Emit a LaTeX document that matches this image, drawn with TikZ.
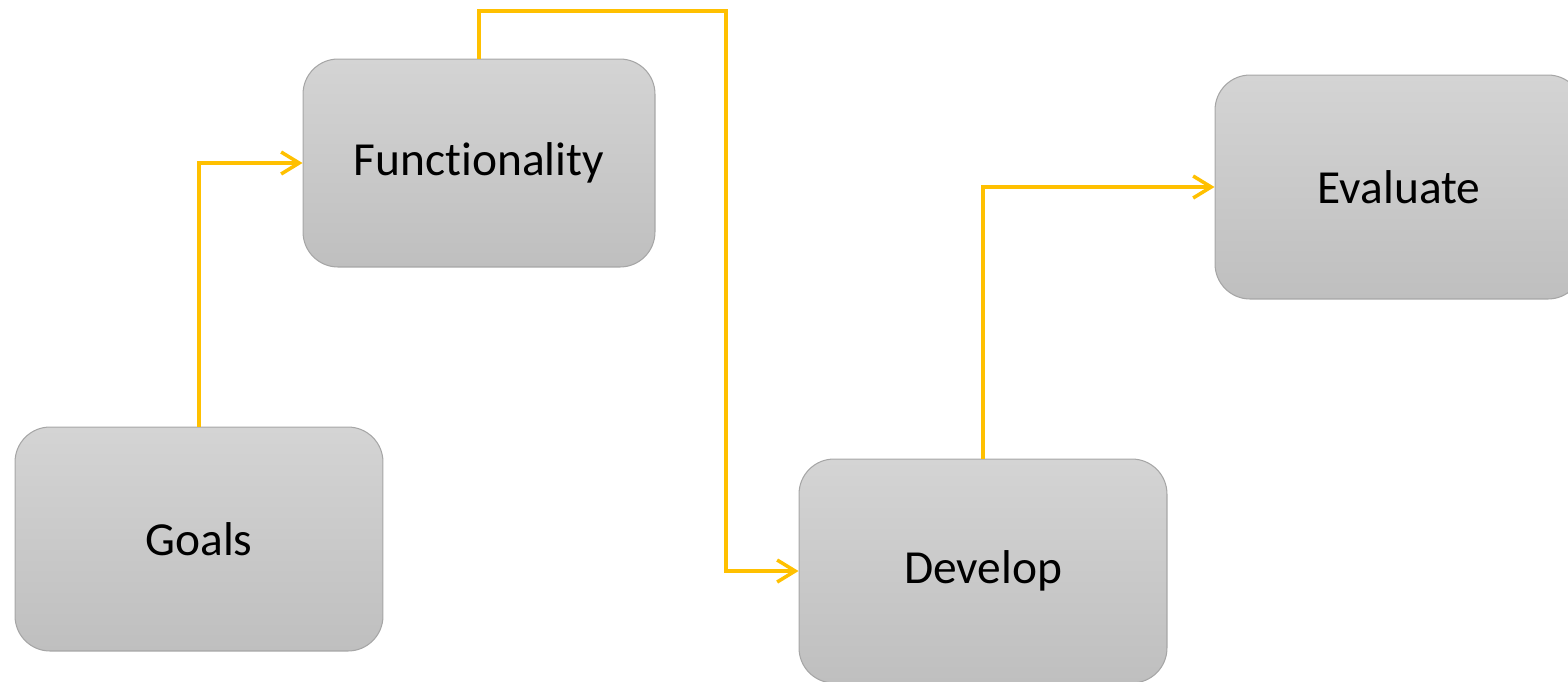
\documentclass[tikz,border=0pt]{standalone}
\usepackage{fontspec}
\setmainfont[Ligatures=NoCommon]{Carlito}
\usetikzlibrary{arrows.meta, positioning}
\definecolor{linkgold}{HTML}{FFC000}
\definecolor{boxtop}{HTML}{D4D4D4}
\definecolor{boxbot}{HTML}{BFBFBF}
\definecolor{boxline}{HTML}{A6A6A6}
\tikzset{
  stepbox/.style={draw=boxline, line width=0.6pt, rounded corners=0.7cm, top color=boxtop, bottom color=boxbot, align=center, minimum width=7.36cm, minimum height=4.48cm},
  flow/.style={->, draw=linkgold, line width=2pt}
}
\begin{document}
\begin{tikzpicture}[x=0.02cm, y=-0.02cm, >={Straight Barb[length=3.6mm, width=4.4mm]}, font=\fontsize{27}{33}\selectfont]
\clip (0,0) rectangle (1568,681);
\node[stepbox] (goals) at (199,539) {Goals};
\node[stepbox, minimum width=7.04cm, minimum height=4.16cm] (func) at (479,163) {Functionality};
\node[stepbox] (develop) at (983,571) {Develop};
\node[stepbox] (evaluate) at (1399,187) {Evaluate};
\coordinate (bend) at (726,11);
\draw[flow] (goals.north) |- (func.west);
\draw[flow] (func.north) |- (bend) |- (develop.west);
\draw[flow] (develop.north) |- (evaluate.west);
\end{tikzpicture}
\end{document}
